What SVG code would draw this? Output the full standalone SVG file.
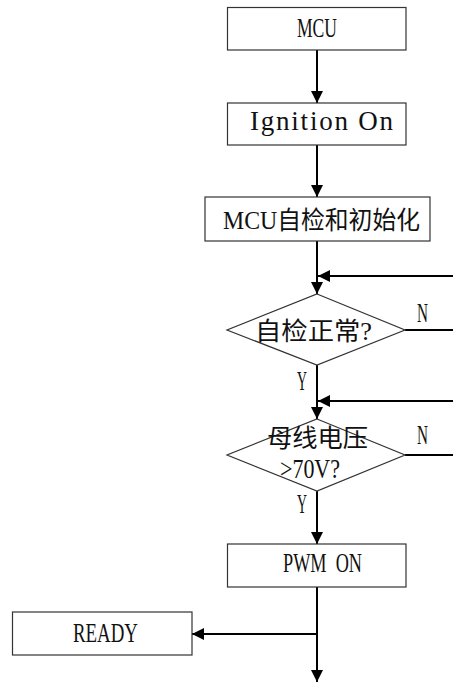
<svg xmlns="http://www.w3.org/2000/svg" width="453" height="684" viewBox="0 0 453 684">
<style>
.box{fill:#fff;stroke:#333;stroke-width:1.2}
.t{font-family:"Liberation Serif","Noto Sans CJK SC",serif;font-size:27px;fill:#111}
.m{font-size:25px}
.lbl{font-family:"Liberation Serif",serif;font-size:27px;fill:#111}
.c{fill:none;stroke:#000;stroke-width:2}
</style>
<defs>
<marker id="ah" viewBox="0 0 10 10" refX="10" refY="5" markerWidth="12" markerHeight="12" markerUnits="userSpaceOnUse" orient="auto">
<path d="M0,0 L10,5 L0,10 z" fill="#000"/>
</marker>
</defs>
<rect width="453" height="684" fill="#fff"/>
<g id="connectors">
<line class="c" x1="317" y1="50" x2="317" y2="103" marker-end="url(#ah)"/>
<line class="c" x1="317" y1="145" x2="317" y2="197" marker-end="url(#ah)"/>
<line class="c" x1="317" y1="241" x2="317" y2="294" marker-end="url(#ah)"/>
<line class="c" x1="453" y1="276" x2="318" y2="276" marker-end="url(#ah)"/>
<line class="c" x1="405" y1="330" x2="453" y2="330"/>
<line class="c" x1="317" y1="365" x2="317" y2="419" marker-end="url(#ah)"/>
<line class="c" x1="453" y1="401" x2="318" y2="401" marker-end="url(#ah)"/>
<line class="c" x1="405" y1="455" x2="453" y2="455"/>
<line class="c" x1="317" y1="491" x2="317" y2="544" marker-end="url(#ah)"/>
<line class="c" x1="317" y1="587" x2="317" y2="682" marker-end="url(#ah)"/>
<line class="c" x1="317" y1="634" x2="192" y2="634" marker-end="url(#ah)"/>
<text class="lbl" x="417" y="322" textLength="11" lengthAdjust="spacingAndGlyphs">N</text>
<text class="lbl" x="297" y="390" textLength="10" lengthAdjust="spacingAndGlyphs">Y</text>
<text class="lbl" x="417" y="444" textLength="11" lengthAdjust="spacingAndGlyphs">N</text>
<text class="lbl" x="297" y="513" textLength="10" lengthAdjust="spacingAndGlyphs">Y</text>
</g>
<g id="mcu">
<rect class="box" x="227.5" y="7.5" width="178.5" height="42.5"/>
<text class="t" x="297" y="37" textLength="40" lengthAdjust="spacingAndGlyphs">MCU</text>
</g>
<g id="ignition">
<rect class="box" x="227.5" y="103" width="178.5" height="42"/>
<text class="t" x="250" y="130" textLength="143" lengthAdjust="spacing">Ignition On</text>
</g>
<g id="selfcheck-init">
<rect class="box" x="205" y="197" width="225" height="44"/>
<text class="t m" x="223" y="229" textLength="197" lengthAdjust="spacingAndGlyphs">MCU自检和初始化</text>
</g>
<g id="check-ok">
<polygon class="box" points="317,294 405,330 317,365 227,330"/>
<text class="t m" x="255" y="340" textLength="117" lengthAdjust="spacingAndGlyphs">自检正常?</text>
</g>
<g id="voltage-check">
<polygon class="box" points="317,419 405,455 317,491 227,455"/>
<text class="t m" x="267" y="447" textLength="101" lengthAdjust="spacingAndGlyphs">母线电压</text>
<text class="t" x="280" y="478" textLength="60" lengthAdjust="spacingAndGlyphs">&gt;70V?</text>
</g>
<g id="pwm-on">
<rect class="box" x="227.5" y="544" width="178.5" height="43"/>
<text class="t" x="283" y="572" xml:space="preserve" textLength="79" lengthAdjust="spacingAndGlyphs">PWM  ON</text>
</g>
<g id="ready">
<rect class="box" x="12.5" y="612" width="179.5" height="43"/>
<text class="t" x="73" y="642" textLength="65" lengthAdjust="spacingAndGlyphs">READY</text>
</g>
</svg>
